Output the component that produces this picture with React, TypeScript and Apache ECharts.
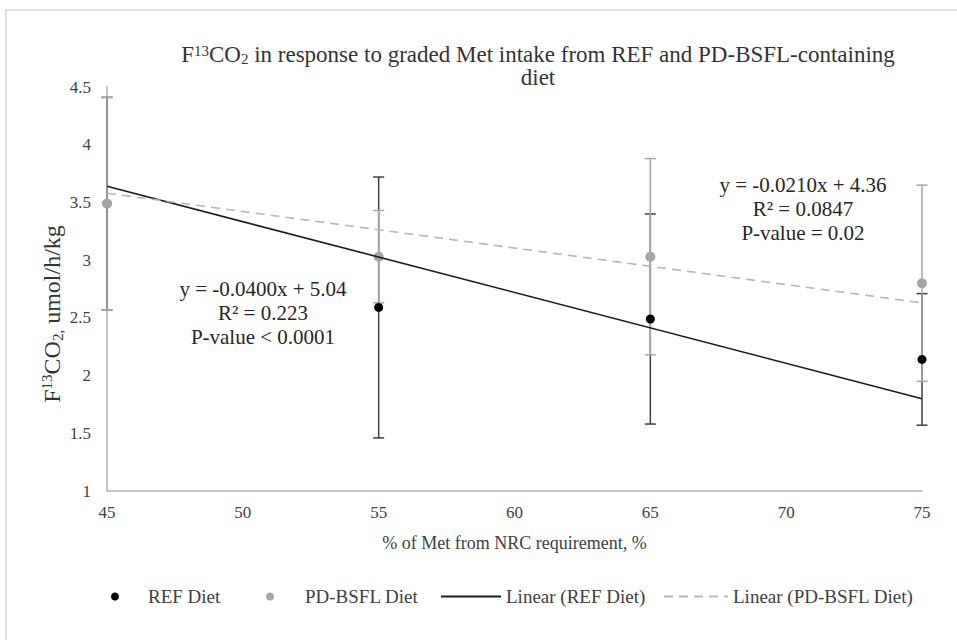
import React, { useEffect, useRef } from "react";
import * as echarts from "echarts";

const xValues = [45, 55, 65, 75];
const refMeans = [3.49, 2.59, 2.49, 2.14];
const refSD = [0.92, 1.13, 0.91, 0.57];
const pdMeans = [3.49, 3.03, 3.03, 2.8];
const pdSD = [0.92, 0.4, 0.85, 0.85];
const trendX = [45, 75];
const refTrend = [3.64, 1.8];
const pdTrend = [3.58, 2.63];
const xTicks = { min: 45, max: 75, interval: 5 };
const yTicks = { min: 1, max: 4.5, interval: 0.5 };
const seriesNames = ["REF Diet", "PD-BSFL Diet", "Linear (REF Diet)", "Linear (PD-BSFL Diet)"];
const refAnnotation = ["y = -0.0400x + 5.04", "R² = 0.223", "P-value < 0.0001"];
const pdAnnotation = ["y = -0.0210x + 4.36", "R² = 0.0847", "P-value = 0.02"];

const FONT = "Liberation Serif";

function errorBarSeries(name: string, means: number[], sds: number[], color: string) {
  return {
    type: "custom",
    name,
    data: xValues.map((x, i) => [x, means[i], sds[i]]),
    encode: { x: 0, y: 1 },
    silent: true,
    renderItem: (params: any, api: any) => {
      const x = api.value(0);
      const m = api.value(1);
      const s = api.value(2);
      const top = api.coord([x, m + s]);
      const bot = api.coord([x, m - s]);
      const hw = 5.5;
      const style = { stroke: color, lineWidth: 1.5 };
      return {
        type: "group",
        children: [
          { type: "line", shape: { x1: top[0], y1: top[1], x2: bot[0], y2: bot[1] }, style },
          { type: "line", shape: { x1: top[0] - hw, y1: top[1], x2: top[0] + hw, y2: top[1] }, style },
          { type: "line", shape: { x1: bot[0] - hw, y1: bot[1], x2: bot[0] + hw, y2: bot[1] }, style },
        ],
      };
    },
  };
}

function legendItem(name: string, left: number, width: number) {
  return {
    data: [name],
    left,
    top: 587,
    padding: 0,
    itemWidth: width,
    itemHeight: 8,
    textStyle: { color: "#404040", fontSize: 19, fontFamily: FONT },
  };
}

export default function App() {
  const ref = useRef<HTMLDivElement>(null);
  useEffect(() => {
    const chart = echarts.init(ref.current!, null, { renderer: "svg" });
    const titleRich = {
      n: { fontSize: 23, fontFamily: FONT, fontWeight: "normal", color: "#333333", lineHeight: 23 },
      sup: { fontSize: 15, fontFamily: FONT, fontWeight: "normal", color: "#333333", lineHeight: 23, verticalAlign: "top", padding: [0, 0, 8, 0] },
      sub: { fontSize: 15, fontFamily: FONT, fontWeight: "normal", color: "#333333", lineHeight: 23, verticalAlign: "bottom", padding: [8, 0, 0, 0] },
    };
    const option: any = {
      animation: false,
      backgroundColor: "#ffffff",
      textStyle: { fontFamily: FONT },
      title: {
        left: 533,
        top: 38,
        textAlign: "center",
        text: "{n|F}{sup|13}{n|CO}{sub|2}{n| in response to graded Met intake from REF and PD-BSFL-containing}\n{n|diet}",
        textStyle: { fontWeight: "normal", fontFamily: FONT, rich: titleRich },
      },
      grid: { left: 107, right: 35, top: 87, bottom: 149 },
      xAxis: {
        type: "value",
        min: xTicks.min,
        max: xTicks.max,
        interval: xTicks.interval,
        splitLine: { show: false },
        axisTick: { show: false },
        axisLine: { lineStyle: { color: "#b3b3b3", width: 1.5 } },
        axisLabel: { color: "#404040", fontSize: 17, fontFamily: FONT, margin: 13 },
        name: "% of Met from NRC requirement, %",
        nameLocation: "middle",
        nameGap: 43,
        nameTextStyle: { color: "#404040", fontSize: 18, fontFamily: FONT },
      },
      yAxis: {
        type: "value",
        min: yTicks.min,
        max: yTicks.max,
        interval: yTicks.interval,
        splitLine: { show: false },
        axisTick: { show: false },
        axisLine: { show: true, lineStyle: { color: "#b3b3b3", width: 1.5 } },
        axisLabel: { color: "#404040", fontSize: 17, fontFamily: FONT, margin: 16 },
      },
      legend: [
        legendItem(seriesNames[0], 111, 56),
        legendItem(seriesNames[1], 266, 60),
        legendItem(seriesNames[2], 440, 60),
        legendItem(seriesNames[3], 663, 64),
      ],
      graphic: [
        {
          type: "rect",
          z: -10,
          shape: { x: 6, y: 10, width: 1000, height: 700 },
          style: { fill: "none", stroke: "#d9d9d9", lineWidth: 1.5 },
        },
        {
          type: "text",
          x: 52,
          y: 314,
          rotation: Math.PI / 2,
          style: {
            text: "{n|F}{sup|13}{n|CO}{sub|2,}{n| umol/h/kg}",
            align: "center",
            verticalAlign: "middle",
            fill: "#333333",
            stroke: "none",
            fontFamily: FONT,
            rich: {
              n: { fontSize: 24, fontFamily: FONT, fill: "#333333", lineHeight: 26 },
              sup: { fontSize: 15, fontFamily: FONT, fill: "#333333", lineHeight: 26, verticalAlign: "top", padding: [0, 0, 8, 0] },
              sub: { fontSize: 15, fontFamily: FONT, fill: "#333333", lineHeight: 26, verticalAlign: "bottom", padding: [8, 0, 0, 0] },
            },
          },
        },
        {
          type: "text",
          x: 263,
          y: 277,
          style: {
            text: refAnnotation.join("\n"),
            align: "center",
            verticalAlign: "top",
            fontSize: 21,
            lineHeight: 24,
            fontFamily: FONT,
            fill: "#262626",
          },
        },
        {
          type: "text",
          x: 803,
          y: 173,
          style: {
            text: pdAnnotation.join("\n"),
            align: "center",
            verticalAlign: "top",
            fontSize: 21,
            lineHeight: 24,
            fontFamily: FONT,
            fill: "#262626",
          },
        },
      ],
      series: [
        errorBarSeries("REF SD", refMeans, refSD, "#404040"),
        errorBarSeries("PD SD", pdMeans, pdSD, "#a6a6a6"),
        {
          type: "line",
          name: seriesNames[2],
          data: trendX.map((x, i) => [x, refTrend[i]]),
          symbol: "none",
          showSymbol: false,
          lineStyle: { color: "#1a1a1a", width: 1.6 },
          itemStyle: { color: "#1a1a1a", opacity: 0 },
        },
        {
          type: "line",
          name: seriesNames[3],
          data: trendX.map((x, i) => [x, pdTrend[i]]),
          symbol: "none",
          showSymbol: false,
          lineStyle: { color: "#b8b8b8", width: 1.6, type: [9, 6] },
          itemStyle: { color: "#b8b8b8", opacity: 0 },
        },
        {
          type: "scatter",
          name: seriesNames[0],
          data: xValues.map((x, i) => [x, refMeans[i]]),
          symbol: "circle",
          symbolSize: 9,
          itemStyle: { color: "#000000", opacity: 1 },
        },
        {
          type: "scatter",
          name: seriesNames[1],
          data: xValues.map((x, i) => [x, pdMeans[i]]),
          symbol: "circle",
          symbolSize: 10,
          itemStyle: { color: "#a5a5a5", opacity: 1 },
        },
      ],
    };
    chart.setOption(option);
    return () => chart.dispose();
  }, []);
  return (
    <div
      ref={ref}
      style={{ position: "fixed", left: 0, top: 0, width: 957, height: 640 }}
    />
  );
}
